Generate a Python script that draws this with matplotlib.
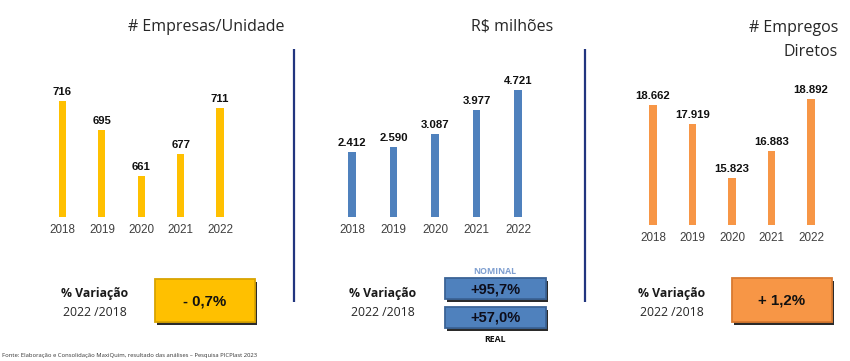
import matplotlib
matplotlib.use('Agg')
import matplotlib.pyplot as plt
from matplotlib.patches import Rectangle

W, H = 850, 361

years = ['2018', '2019', '2020', '2021', '2022']
empresas = [716, 695, 661, 677, 711]
receita = [2412, 2590, 3087, 3977, 4721]
empregos = [18662, 17919, 15823, 16883, 18892]
empresas_lbl = ['716', '695', '661', '677', '711']
receita_lbl = ['2.412', '2.590', '3.087', '3.977', '4.721']
empregos_lbl = ['18.662', '17.919', '15.823', '16.883', '18.892']

title_empresas = '# Empresas/Unidade'
title_receita = 'R$ milhões'
title_empregos = ['# Empregos', 'Diretos']

var_label = '% Variação'
var_period = '2022 /2018'
var_empresas = '- 0,7%'
var_receita_nominal = '+95,7%'
var_receita_real = '+57,0%'
var_empregos = '+ 1,2%'
fonte = 'Fonte: Elaboração e Consolidação MaxiQuim, resultado das análises – Pesquisa PICPlast 2023'

YELLOW = '#FFC000'
BLUE = '#4F81BD'
ORANGE = '#F79646'
NAVY = '#22357f'
TXT = '#262626'
ARIAL = ['Liberation Sans', 'DejaVu Sans']

fig = plt.figure(figsize=(W / 100, H / 100), dpi=100)
bg = fig.add_axes([0, 0, 1, 1])
bg.set_xlim(0, W)
bg.set_ylim(H, 0)
bg.axis('off')


def px_axes(x0, x1, ytop, ybot):
    return fig.add_axes([x0 / W, 1 - ybot / H, (x1 - x0) / W, (ybot - ytop) / H])


def panel(x0, x1, ybot, base, scale, vals, lbls, color, bw):
    ytop = 40
    ax = px_axes(x0, x1, ytop, ybot)
    ax.patch.set_alpha(0)
    ax.bar(range(len(vals)), vals, width=bw, color=color)
    for i, (v, l) in enumerate(zip(vals, lbls)):
        ax.annotate(l, (i, v), xytext=(0, 3.0), textcoords='offset points',
                    ha='center', va='bottom', fontsize=8.2, fontweight='bold',
                    color='#111111', family=ARIAL)
    ax.set_xlim(-0.5, len(vals) - 0.5)
    ax.set_ylim(base, base + (ybot - ytop) / scale)
    ax.set_xticks(range(len(vals)))
    ax.set_xticklabels(years, fontsize=8.4, color='#404040', family=ARIAL)
    ax.tick_params(axis='x', length=0, pad=5)
    ax.set_yticks([])
    for s in ax.spines.values():
        s.set_visible(False)
    return ax


panel(42.8, 239.7, 217, 631, 1.364, empresas, empresas_lbl, YELLOW, 0.18)
panel(331.25, 538.75, 217, 0, 0.0269, receita, receita_lbl, BLUE, 0.17)
panel(633.25, 830.75, 225, 14000, 0.02574, empregos, empregos_lbl, ORANGE, 0.18)

# titles
tf = dict(fontsize=11.5, color=TXT, family='Open Sans', va='center')
bg.text(206, 27, title_empresas, ha='center', **tf)
bg.text(512, 27, title_receita, ha='center', **tf)
bg.text(838, 28, title_empregos[0], ha='right', **tf)
bg.text(838, 52, title_empregos[1], ha='right', **tf)

# separators
for x in (293.7, 585):
    bg.plot([x, x], [49, 302], color=NAVY, lw=1.6, solid_capstyle='butt')


def var_text(cx):
    bg.text(cx, 293, var_label, ha='center', va='center', fontsize=8.8,
            fontweight='bold', color='#1a1a1a', family='Open Sans')
    bg.text(cx, 312, var_period, ha='center', va='center', fontsize=8.8,
            color=TXT, family='Open Sans')


def box(x0, y0, x1, y1, fc, ec, text, tcolor, fs):
    bg.add_patch(Rectangle((x0 + 2.5, y0 + 2.5), x1 - x0, y1 - y0, fc='#141414',
                           ec='none', alpha=0.9))
    bg.add_patch(Rectangle((x0, y0), x1 - x0, y1 - y0, fc=fc, ec=ec, lw=1.3))
    bg.text((x0 + x1) / 2, (y0 + y1) / 2 + 0.5, text, ha='center', va='center',
            fontsize=fs, fontweight='bold', color=tcolor, family=ARIAL)


var_text(95)
var_text(383)
var_text(672)

box(155, 279, 255, 322, YELLOW, '#d9a400', var_empresas, '#111111', 10.8)
box(445, 278, 546, 299, BLUE, '#3a6396', var_receita_nominal, '#0d0d1a', 10.5)
box(445, 307, 546, 328, BLUE, '#3a6396', var_receita_real, '#0d0d1a', 10.5)
box(732, 278, 832, 322, ORANGE, '#d97a30', var_empregos, '#111111', 10.8)

bg.text(495, 271, 'NOMINAL', ha='center', va='center', fontsize=6.3,
        fontweight='bold', color='#7f9fd0', family='Open Sans')
bg.text(495, 340, 'REAL', ha='center', va='center', fontsize=6.3,
        fontweight='bold', color='#111111', family='Open Sans')

bg.text(2, 355, fonte, ha='left', va='center', fontsize=4.25, color='#333333',
        family='Open Sans')

fig.savefig('out.png', dpi=100)
